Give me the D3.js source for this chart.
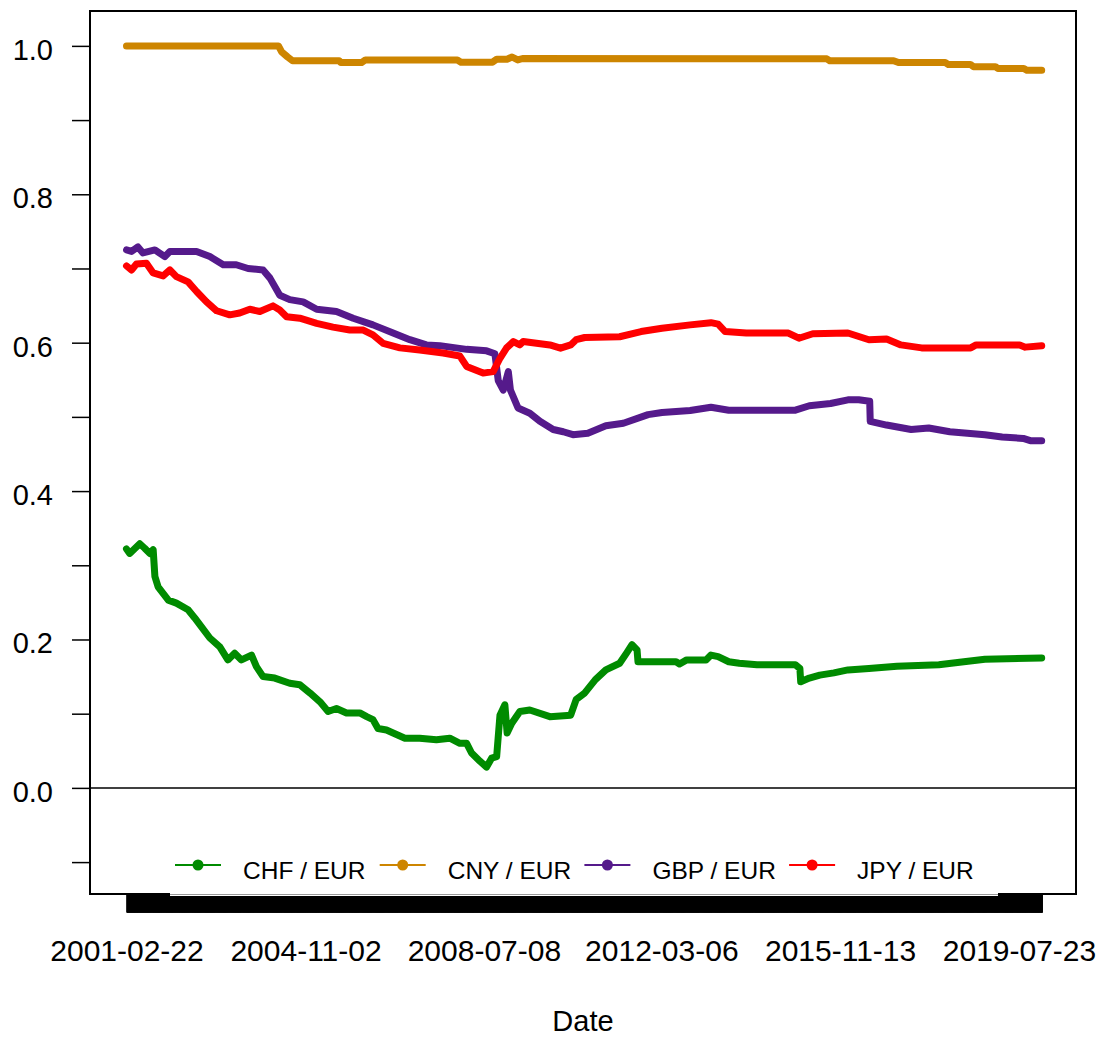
<!DOCTYPE html>
<html><head><meta charset="utf-8">
<script src="https://cdn.jsdelivr.net/npm/d3@7"></script>
<style>body{margin:0;background:#fff} svg{display:block} text{font-family:"Liberation Sans",Arial,sans-serif;fill:#000}</style>
</head><body><svg id="c" width="1102" height="1037"></svg>
<script>
// ---------------- data ----------------
const chfDates = ["2001-02-22","2001-03-18","2001-06-02","2001-07-09","2001-08-16","2001-09-11","2001-09-24","2001-10-18","2002-01-03","2002-03-05","2002-06-01","2002-07-21","2002-09-10","2002-11-12","2003-01-26","2003-03-28","2003-05-18","2003-07-08","2003-09-22","2003-10-29","2003-12-18","2004-03-15","2004-07-06","2004-09-20","2004-12-05","2005-02-19","2005-04-21","2005-06-23","2005-09-07","2005-12-16","2006-02-06","2006-03-25","2006-05-02","2006-07-05","2006-08-24","2006-11-21","2007-03-12","2007-07-16","2007-10-25","2008-01-09","2008-02-29","2008-04-06","2008-06-08","2008-07-28","2008-09-04","2008-10-12","2008-11-06","2008-12-13","2008-12-30","2009-02-03","2009-04-05","2009-06-19","2009-11-17","2010-04-23","2010-06-03","2010-08-07","2010-10-26","2011-01-13","2011-04-27","2011-06-19","2011-07-29","2011-09-05","2011-09-12","2012-06-25","2012-07-21","2012-09-13","2013-02-06","2013-03-15","2013-05-08","2013-07-27","2013-10-14","2014-02-25","2014-12-11","2015-01-14","2015-01-20","2015-03-26","2015-06-13","2015-09-27","2016-01-11","2016-06-17","2017-01-14","2017-11-26","2018-06-02","2018-11-08","2020-01-10"];
const chfValues = [0.322,0.316,0.329,0.323,0.316,0.321,0.285,0.271,0.253,0.249,0.240,0.229,0.217,0.202,0.190,0.1725,0.1815,0.1725,0.179,0.1635,0.150,0.148,0.141,0.139,0.128,0.116,0.103,0.107,0.101,0.101,0.096,0.092,0.080,0.078,0.074,0.067,0.067,0.065,0.067,0.060,0.060,0.047,0.036,0.028,0.040,0.042,0.098,0.112,0.074,0.087,0.103,0.105,0.096,0.098,0.119,0.128,0.146,0.159,0.168,0.182,0.193,0.186,0.170,0.170,0.167,0.1725,0.1725,0.179,0.177,0.170,0.168,0.166,0.166,0.161,0.143,0.148,0.152,0.155,0.159,0.161,0.164,0.166,0.170,0.1735,0.175];

const cnyDates = ["2001-02-22","2004-04-12","2004-05-06","2004-06-20","2004-07-27","2005-07-13","2005-07-26","2005-12-29","2006-01-27","2007-12-21","2008-01-17","2008-09-11","2008-10-13","2008-12-29","2009-02-05","2009-03-20","2009-04-26","2015-08-05","2015-08-27","2016-12-20","2017-01-26","2018-01-13","2018-02-05","2018-07-21","2018-08-14","2019-01-26","2019-02-14","2019-08-28","2019-09-20","2020-01-10"];
const cnyValues = [1.0,1.0,0.992,0.985,0.980,0.980,0.9775,0.9775,0.981,0.981,0.978,0.978,0.982,0.982,0.985,0.981,0.983,0.9825,0.980,0.980,0.9775,0.9775,0.975,0.975,0.972,0.972,0.9695,0.9695,0.967,0.967];

const gbpDates = ["2001-02-22","2001-04-01","2001-05-19","2001-06-26","2001-09-24","2001-12-08","2002-01-15","2002-08-04","2002-11-12","2003-02-21","2003-05-30","2003-08-27","2003-12-18","2004-02-08","2004-04-22","2004-07-06","2004-10-15","2005-01-25","2005-06-23","2005-10-27","2006-03-25","2006-08-24","2006-12-28","2007-05-02","2007-08-11","2008-02-29","2008-07-28","2008-09-29","2008-10-24","2008-12-01","2009-01-08","2009-01-24","2009-03-22","2009-06-19","2009-09-03","2009-12-12","2010-02-26","2010-05-10","2010-08-30","2011-01-13","2011-05-25","2011-11-27","2012-03-11","2012-10-09","2013-03-15","2013-07-27","2014-12-11","2015-03-26","2015-09-02","2016-01-11","2016-04-01","2016-06-23","2016-06-27","2016-10-28","2017-05-01","2017-09-11","2018-02-17","2018-11-08","2019-03-18","2019-08-24","2019-10-16","2020-01-10"];
const gbpValues = [0.725,0.723,0.729,0.721,0.725,0.716,0.723,0.723,0.716,0.705,0.705,0.700,0.698,0.687,0.664,0.658,0.655,0.645,0.642,0.633,0.624,0.613,0.604,0.597,0.596,0.591,0.589,0.585,0.549,0.536,0.561,0.536,0.512,0.505,0.494,0.483,0.480,0.476,0.478,0.488,0.4915,0.503,0.506,0.5085,0.513,0.509,0.509,0.515,0.518,0.523,0.523,0.521,0.494,0.489,0.483,0.485,0.480,0.476,0.473,0.471,0.468,0.468];

const jpyDates = ["2001-02-22","2001-04-01","2001-05-08","2001-07-22","2001-09-11","2001-11-25","2002-01-15","2002-03-05","2002-06-01","2002-08-04","2002-10-18","2003-01-02","2003-04-11","2003-06-25","2003-09-09","2003-11-24","2004-03-02","2004-04-22","2004-06-12","2004-09-20","2005-01-25","2005-05-28","2005-10-02","2006-01-11","2006-03-25","2006-06-10","2006-10-14","2007-03-12","2007-09-05","2008-01-09","2008-02-29","2008-07-02","2008-09-16","2008-11-06","2008-12-26","2009-02-15","2009-04-05","2009-04-30","2009-11-17","2010-02-05","2010-04-23","2010-06-03","2010-08-07","2011-04-27","2011-10-05","2012-03-11","2012-10-09","2013-03-15","2013-05-08","2013-06-30","2013-12-06","2014-10-19","2015-01-07","2015-04-21","2016-01-11","2016-06-17","2016-10-28","2017-02-13","2017-07-19","2018-07-24","2018-09-03","2019-07-28","2019-09-08","2020-01-10"];
const jpyValues = [0.7035,0.698,0.706,0.707,0.694,0.690,0.698,0.689,0.682,0.669,0.655,0.643,0.6375,0.640,0.645,0.642,0.6496,0.644,0.635,0.633,0.626,0.621,0.617,0.617,0.6105,0.599,0.593,0.590,0.586,0.582,0.568,0.559,0.561,0.579,0.593,0.6015,0.597,0.6015,0.597,0.5926,0.597,0.604,0.607,0.608,0.615,0.6195,0.624,0.627,0.625,0.615,0.613,0.613,0.606,0.612,0.613,0.604,0.605,0.597,0.593,0.593,0.597,0.597,0.594,0.596];

const seriesNames = ["CHF / EUR","CNY / EUR","GBP / EUR","JPY / EUR"];
const seriesColors = ["#008B00","#CD8500","#551A8B","#FF0000"];
const firstDate = "2001-02-22";
const lastDate = "2020-01-10";
const xLabelDates = ["2001-02-22","2004-11-02","2008-07-08","2012-03-06","2015-11-13","2019-07-23"];
const yTickValues = [-0.1,0,0.1,0.2,0.3,0.4,0.5,0.6,0.7,0.8,0.9,1.0];
const yLabelValues = [0,0.2,0.4,0.6,0.8,1.0];
const xTitle = "Date";

// ---------------- drawing ----------------
const parse = d3.timeParse("%Y-%m-%d");
const svg = d3.select("#c");
const L = 90, R = 1076, T = 11, B = 894;
const FONT = '"Liberation Sans", Arial, sans-serif';

const x = d3.scaleTime().domain([parse(firstDate), parse(lastDate)]).range([126.5, 1041.7]);
const y = d3.scaleLinear().domain([-0.143, 1.047]).range([B, T]);

const allSeries = [
  {dates: chfDates, values: chfValues},
  {dates: cnyDates, values: cnyValues},
  {dates: gbpDates, values: gbpValues},
  {dates: jpyDates, values: jpyValues}
].map((s, i) => ({name: seriesNames[i], color: seriesColors[i],
  pts: s.dates.map((d, j) => ({d: parse(d), v: s.values[j]}))}));

// y axis
const yAxis = d3.axisLeft(y).tickValues(yTickValues).tickSize(18)
  .tickFormat(v => yLabelValues.some(l => Math.abs(l - v) < 1e-9) ? d3.format(".1f")(v) : "");
const gy = svg.append("g").attr("transform", `translate(${L},0)`).call(yAxis);
gy.select(".domain").remove();
gy.selectAll(".tick line").attr("stroke", "#000").attr("stroke-width", 1.5);
gy.selectAll(".tick text").attr("font-size", 29).attr("x", -37).attr("dy", null).attr("y", 13.5)
  .attr("font-family", FONT).attr("fill", "#000");

// x axis: dense tick marks (one per business day)
const busDays = d3.timeDay.range(parse(firstDate), d3.timeDay.offset(parse(lastDate), 1))
  .filter(d => d.getDay() !== 0 && d.getDay() !== 6);
const xAxisTicks = d3.axisBottom(x).tickValues(busDays).tickSize(18.5).tickFormat("");
const gx = svg.append("g").attr("transform", `translate(0,${B})`).call(xAxisTicks);
gx.selectAll(".tick line").attr("stroke", "#000").attr("stroke-width", 1);
gx.select(".domain").attr("stroke", "#000");

// x axis labels
const xAxisLabels = d3.axisBottom(x).tickValues(xLabelDates.map(parse)).tickSize(0)
  .tickFormat(d3.timeFormat("%Y-%m-%d"));
const gxl = svg.append("g").attr("transform", `translate(0,${B})`).call(xAxisLabels);
gxl.select(".domain").remove();
gxl.selectAll(".tick text").attr("font-size", 30).attr("y", 67).attr("dy", null)
  .attr("font-family", FONT).attr("fill", "#000");

// zero line
svg.append("line").attr("x1", L).attr("x2", R).attr("y1", y(0)).attr("y2", y(0))
  .attr("stroke", "#000").attr("stroke-width", 1.5);

// series
const line = d3.line().x(p => x(p.d)).y(p => y(p.v));
svg.append("g").selectAll("path").data(allSeries).join("path")
  .attr("d", s => line(s.pts)).attr("fill", "none").attr("stroke", s => s.color)
  .attr("stroke-width", 7).attr("stroke-linejoin", "round").attr("stroke-linecap", "round");

// frame
svg.append("rect").attr("x", L).attr("y", T).attr("width", R - L).attr("height", B - T)
  .attr("fill", "none").attr("stroke", "#000").attr("stroke-width", 2);

// legend
svg.append("rect").attr("x", 170).attr("y", 838).attr("width", 828).attr("height", 58).attr("fill", "#fff");
svg.append("line").attr("x1", 170).attr("x2", 998).attr("y1", 894.5).attr("y2", 894.5)
  .attr("stroke", "#999").attr("stroke-width", 1);
const lg = svg.append("g").selectAll("g").data(allSeries).join("g")
  .attr("transform", (s, i) => `translate(${175 + i * 204.7},865)`);
lg.append("line").attr("x1", 0).attr("x2", 46).attr("stroke", s => s.color).attr("stroke-width", 2);
lg.append("circle").attr("cx", 23).attr("cy", 0).attr("r", 5.5).attr("fill", s => s.color);
lg.append("text").attr("x", 68).attr("y", 14).attr("font-size", 24.5).text(s => s.name);

// axis title
svg.append("text").attr("x", (L + R) / 2).attr("y", 1031).attr("text-anchor", "middle")
  .attr("font-size", 29).text(xTitle);
</script></body></html>
